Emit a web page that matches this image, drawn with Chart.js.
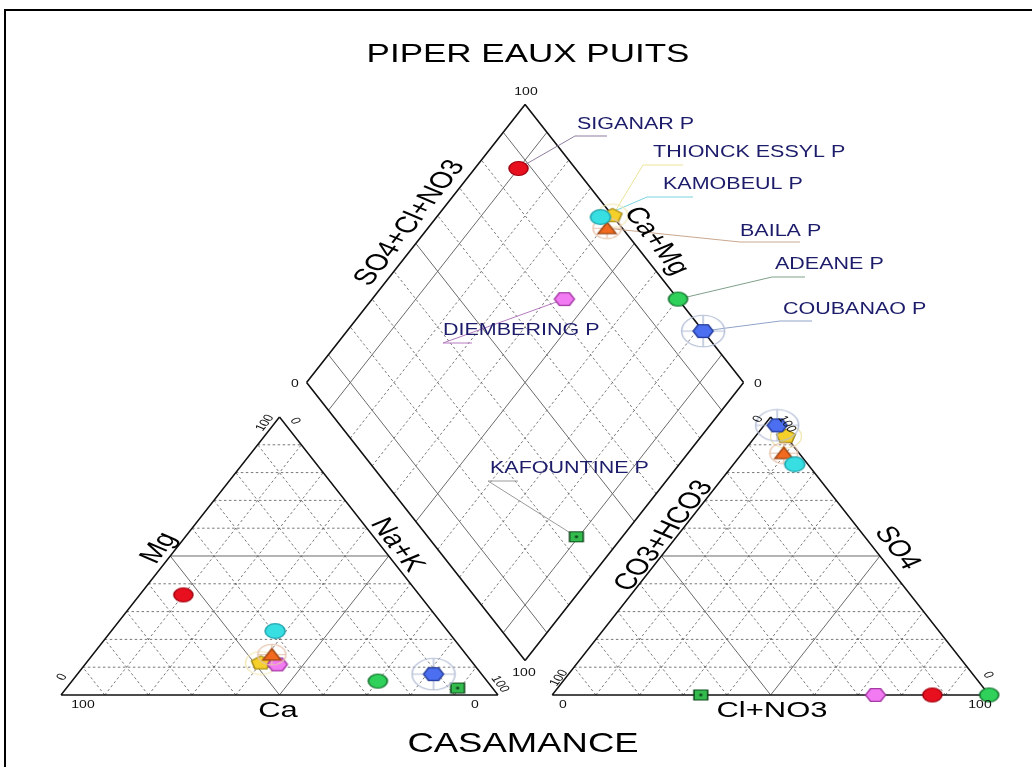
<!DOCTYPE html>
<html>
<head>
<meta charset="utf-8">
<title>Piper eaux puits</title>
<script src="https://cdn.jsdelivr.net/npm/chart.js@4.4.1/dist/chart.umd.min.js"></script>
<style>
  html, body { margin: 0; padding: 0; background: #fff; }
  canvas { display: block; }
</style>
</head>
<body>
<canvas id="piper" width="1032" height="767"></canvas>
<script>
// Wells sampled in Casamance (percent of meq)
const samples = ['SIGANAR P', 'THIONCK ESSYL P', 'KAMOBEUL P', 'BAILA P', 'ADEANE P', 'COUBANAO P', 'DIEMBERING P', 'KAFOUNTINE P'];

// cations
const ca  = [54, 48.5, 39.5, 44.5, 25, 11, 45, 8];
const mg  = [36, 11.5, 23, 14.5, 5, 7.5, 11, 2.5];
const naK = [10, 40, 37.5, 41, 70, 81.5, 44, 89.5];

// anions
const hco3  = [13, 0, 3, 3.5, 0, 0, 26, 66];
const so4   = [0, 93, 83, 87, 0, 97, 0, 0];
const clNo3 = [87, 7, 14, 9.5, 100, 3, 74, 34];

const tickLabels = ['0', '100'];

// drawing constants
const FONT = '"Liberation Sans", Arial, Helvetica, sans-serif';
const SQUISH = 0.735;          // the whole diagram is drawn flattened vertically
const GAP = 12.4;              // space between the two triangles
const H = 50 * Math.sqrt(3);   // triangle height for side 100

const markerStyle = [
    { shape: 'circle',   fill: '#e8101e', stroke: '#a3000f', r: 9.5 },
    { shape: 'pentagon', fill: '#f6d02a', stroke: '#a8901a', r: 10, halo: { r: 15.5, color: '#f1e8b4', cross: false } },
    { shape: 'circle',   fill: '#38dfe2', stroke: '#1fa4ae', r: 10 },
    { shape: 'triangle', fill: '#f26a1f', stroke: '#9e4512', r: 9.5, halo: { r: 14, color: '#e5c3ac', cross: true } },
    { shape: 'circle',   fill: '#2fd15a', stroke: '#12702c', r: 9.5 },
    { shape: 'hexagon',  fill: '#4b6ff0', stroke: '#223a99', r: 10, halo: { r: 21.5, color: '#b3bdd6', cross: true } },
    { shape: 'hexagon',  fill: '#f27af2', stroke: '#a53aa5', r: 10 },
    { shape: 'square',   fill: '#33bb4d', stroke: '#0e4a1c', r: 6.8, dot: true }
];
// yellow sits underneath its neighbours
const drawOrder = [0, 1, 0, 0, 0, 0, 0, 0];

// where each well name sits, with its leader line (pixels)
const labelLayout = [
    { tx: 577, ty: 125, ex: 575, ey: 136, ux: 607, color: '#8e7f9f' },
    { tx: 653, ty: 153, ex: 643, ey: 165, ux: 683, color: '#ebe39a' },
    { tx: 663, ty: 185, ex: 647, ey: 197, ux: 693, color: '#78d4dc' },
    { tx: 740, ty: 232, ex: 740, ey: 242, ux: 800, color: '#c9a88f' },
    { tx: 775, ty: 265, ex: 772, ey: 277, ux: 805, color: '#7fa08a' },
    { tx: 783, ty: 310, ex: 780, ey: 321, ux: 812, color: '#8fa3c8' },
    { tx: 443, ty: 331, ex: 443, ey: 343, ux: 472, color: '#b47bc0' },
    { tx: 490, ty: 469, ex: 488, ey: 481, ux: 518, color: '#9a9a9a' }
];

// ternary -> cartesian
function cationXY(i) {
    return { x: naK[i] + mg[i] / 2, y: mg[i] * H / 100 };
}
function anionXY(i) {
    return { x: 100 + GAP + clNo3[i] + so4[i] / 2, y: so4[i] * H / 100 };
}
function diamondXY(i) {
    const s = so4[i] + clNo3[i];
    const c = ca[i] + mg[i];
    return { x: 100 + GAP / 2 + (s - c) / 2, y: GAP / 2 * Math.sqrt(3) + (s + c) * H / 100 };
}

// flattened marker images
function makeMarker(st) {
    const outer = st.halo ? st.halo.r + 1.5 : st.r + 2;
    const c = document.createElement('canvas');
    c.width = Math.ceil(outer * 2);
    c.height = Math.ceil(outer * 2 * SQUISH);
    const g = c.getContext('2d');
    g.translate(c.width / 2, c.height / 2);
    g.scale(1, SQUISH);
    if (st.halo) {
        g.strokeStyle = st.halo.color;
        g.lineWidth = 1.4;
        g.beginPath();
        g.arc(0, 0, st.halo.r, 0, Math.PI * 2);
        g.stroke();
        if (st.halo.cross) {
            g.beginPath();
            g.moveTo(-st.halo.r, 0); g.lineTo(st.halo.r, 0);
            g.moveTo(0, -st.halo.r); g.lineTo(0, st.halo.r);
            g.stroke();
        }
    }
    const r = st.r;
    g.beginPath();
    if (st.shape === 'circle') {
        g.arc(0, 0, r, 0, Math.PI * 2);
    } else if (st.shape === 'square') {
        g.rect(-r, -r, 2 * r, 2 * r);
    } else {
        const n = st.shape === 'triangle' ? 3 : st.shape === 'pentagon' ? 5 : 6;
        const start = st.shape === 'hexagon' ? 0 : -Math.PI / 2;
        const rr = st.shape === 'triangle' ? r * 1.1 : r;
        for (let k = 0; k < n; k++) {
            const a = start + k * 2 * Math.PI / n;
            const px = Math.cos(a) * rr, py = Math.sin(a) * rr + (st.shape === 'triangle' ? rr * 0.2 : 0);
            if (k === 0) g.moveTo(px, py); else g.lineTo(px, py);
        }
        g.closePath();
    }
    g.fillStyle = st.fill;
    g.fill();
    g.lineWidth = 1.6;
    g.strokeStyle = st.stroke;
    g.stroke();
    if (st.dot) {
        g.fillStyle = '#0b3315';
        g.beginPath();
        g.arc(0, 0, 1.6, 0, Math.PI * 2);
        g.fill();
    }
    return c;
}

// text drawn in the same flattened frame as the diagram
function flatText(ctx, str, x, y, size, angle, color, align) {
    ctx.save();
    ctx.translate(x, y);
    ctx.scale(1, SQUISH);
    ctx.rotate(angle * Math.PI / 180);
    ctx.font = size + 'px ' + FONT;
    ctx.fillStyle = color || '#000';
    ctx.textAlign = align || 'center';
    ctx.textBaseline = 'middle';
    ctx.fillText(str, 0, 0);
    ctx.restore();
}

const lerp = (a, b, t) => ({ x: a.x + (b.x - a.x) * t, y: a.y + (b.y - a.y) * t });

const piperGrid = {
    id: 'piperGrid',
    beforeDatasetsDraw(chart) {
        const { ctx, scales: { x, y } } = chart;
        const px = p => [x.getPixelForValue(p.x), y.getPixelForValue(p.y)];
        const seg = (a, b) => { const p = px(a), q = px(b); ctx.moveTo(p[0], p[1]); ctx.lineTo(q[0], q[1]); };

        ctx.save();
        // outer frame
        ctx.strokeStyle = '#000';
        ctx.lineWidth = 2;
        ctx.strokeRect(5, 10, 1040, 780);

        // A bottom-left, B bottom-right, C apex
        function triangle(A, B, C) {
            const lines = t => {
                seg(lerp(A, C, t), lerp(B, C, t));     // parallel to the base
                seg(lerp(A, B, t), lerp(B, C, 1 - t)); // parallel to AC
                seg(lerp(A, B, t), lerp(A, C, t));     // parallel to BC
            };
            ctx.setLineDash([2.5, 2.5]);
            ctx.strokeStyle = '#555';
            ctx.lineWidth = 0.8;
            ctx.beginPath();
            for (let i = 1; i < 10; i++) {
                if (i !== 5) lines(i / 10);
            }
            ctx.stroke();
            ctx.setLineDash([]);
            ctx.strokeStyle = '#6a6a6a';
            ctx.lineWidth = 1;
            ctx.beginPath();
            lines(0.5);
            ctx.stroke();
            ctx.strokeStyle = '#111';
            ctx.lineWidth = 1.5;
            ctx.beginPath();
            seg(A, B); seg(B, C); seg(C, A);
            ctx.stroke();
        }

        triangle({ x: 0, y: 0 }, { x: 100, y: 0 }, { x: 50, y: H });
        triangle({ x: 100 + GAP, y: 0 }, { x: 200 + GAP, y: 0 }, { x: 150 + GAP, y: H });

        const Bd = { x: 100 + GAP / 2, y: GAP / 2 * Math.sqrt(3) };
        const Rd = { x: Bd.x + 50, y: Bd.y + H };
        const Td = { x: Bd.x, y: Bd.y + 2 * H };
        const Ld = { x: Bd.x - 50, y: Bd.y + H };
        const dLines = t => {
            seg(lerp(Bd, Ld, t), lerp(Rd, Td, t));
            seg(lerp(Bd, Rd, t), lerp(Ld, Td, t));
        };

        ctx.setLineDash([2.5, 2.5]);
        ctx.strokeStyle = '#555';
        ctx.lineWidth = 0.8;
        ctx.beginPath();
        for (let i = 2; i < 9; i++) {
            if (i !== 5) dLines(i / 10);
        }
        ctx.stroke();
        ctx.setLineDash([]);
        ctx.strokeStyle = '#6a6a6a';
        ctx.lineWidth = 1;
        ctx.beginPath();
        [0.1, 0.5, 0.9].forEach(dLines);
        ctx.stroke();
        ctx.strokeStyle = '#111';
        ctx.lineWidth = 1.6;
        ctx.beginPath();
        seg(Bd, Rd); seg(Rd, Td); seg(Td, Ld); seg(Ld, Bd);
        ctx.stroke();

        // leader lines from the diamond points to the names
        ctx.lineWidth = 1;
        samples.forEach((name, i) => {
            const L = labelLayout[i];
            const p = px(diamondXY(i));
            ctx.strokeStyle = L.color;
            ctx.beginPath();
            ctx.moveTo(p[0], p[1]);
            ctx.lineTo(L.ex, L.ey);
            ctx.lineTo(L.ux, L.ey);
            ctx.stroke();
        });
        ctx.restore();
    },
    afterDatasetsDraw(chart) {
        const { ctx } = chart;
        flatText(ctx, 'PIPER EAUX PUITS', 528, 55, 35, 0);
        flatText(ctx, 'CASAMANCE', 523, 745, 36.5, 0);

        // axis titles
        flatText(ctx, 'SO4+Cl+NO3', 410, 223, 31, -60);
        flatText(ctx, 'Ca+Mg', 656, 241, 31, 60);
        flatText(ctx, 'Mg', 159, 548, 31, -60);
        flatText(ctx, 'Na+K', 397, 545, 31, 60);
        flatText(ctx, 'Ca', 278, 711, 31, 0);
        flatText(ctx, 'CO3+HCO3', 664, 536, 31, -60);
        flatText(ctx, 'SO4', 897, 548, 31, 60);
        flatText(ctx, 'Cl+NO3', 772, 711, 31, 0);

        // scale ends
        const [lo, hi] = tickLabels;
        const ticks = [
            [hi, 526, 92, 0], [lo, 295, 384, 0], [lo, 758, 384, 0], [hi, 524, 673, 0],
            [hi, 83, 705, 0], [lo, 475, 705, 0], [lo, 62, 677, -60], [hi, 265, 423, -60],
            [lo, 295, 421, 60], [hi, 500, 684, 60],
            [lo, 563, 705, 0], [hi, 980, 705, 0], [hi, 559, 678, -60], [lo, 758, 419, -60],
            [hi, 787, 424, 60], [lo, 988, 675, 60]
        ];
        ticks.forEach(t => flatText(ctx, t[0], t[1], t[2], 14, t[3], '#111'));

        // well names
        samples.forEach((name, i) => {
            const L = labelLayout[i];
            flatText(ctx, name, L.tx, L.ty, 21.5, 0, '#1c1c6a', 'left');
        });
    }
};

const datasets = samples.map((name, i) => ({
    label: name,
    data: [cationXY(i), anionXY(i), diamondXY(i)],
    pointStyle: makeMarker(markerStyle[i]),
    pointRadius: 9,
    order: drawOrder[i],
    showLine: false
}));

new Chart(document.getElementById('piper'), {
    type: 'scatter',
    data: { datasets },
    options: {
        responsive: false,
        animation: false,
        devicePixelRatio: 1,
        layout: { padding: 0, autoPadding: false },
        plugins: { legend: { display: false }, tooltip: { enabled: false } },
        scales: {
            x: { type: 'linear', display: false, min: -13.96, max: 222.2 },
            y: { type: 'linear', display: false, min: -22.43, max: 216.5 }
        }
    },
    plugins: [piperGrid]
});
</script>
</body>
</html>
